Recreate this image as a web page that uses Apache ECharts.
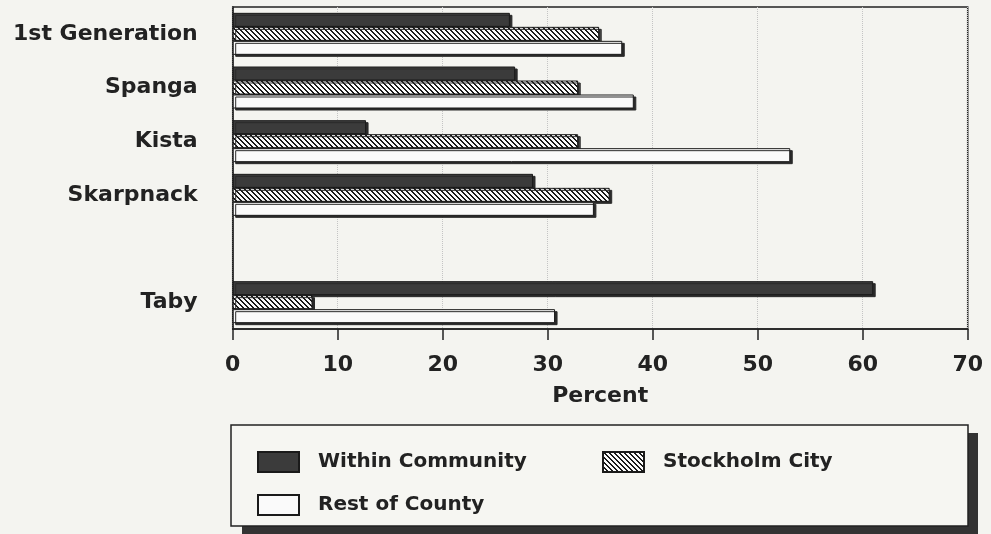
<!DOCTYPE html>
<html>
<head>
<meta charset="utf-8">
<title>Travel destinations by community</title>
<script src="https://cdn.jsdelivr.net/npm/echarts@6/dist/echarts.min.js"></script>
<style>
  html, body { margin: 0; padding: 0; background: #f4f4f0; }
  #chart { width: 991px; height: 534px; }
</style>
</head>
<body>
<div id="chart"></div>
<script>
// Communities (blank slot separates Taby from the Stockholm communities)
const categories = ['1st Generation', 'Spanga', 'Kista', 'Skarpnack', '', 'Taby'];
const seriesNames = ['Within Community', 'Stockholm City', 'Rest of County'];
// Percent of trips by destination
const withinCommunity = [26.4, 26.9, 12.7, 28.6, '-', 61.0];
const stockholmCity   = [34.9, 32.9, 32.9, 35.9, '-', 7.6];
const restOfCounty    = [37.1, 38.2, 53.1, 34.4, '-', 30.7];
const percentTicks = [0, 10, 20, 30, 40, 50, 60, 70];

const FONT = 'DejaVu Sans';
const INK = '#222';

// Crisp diagonal hatch (top-left to bottom-right) for the Stockholm City bars
function hatchPattern() {
  const s = 5;
  const c = document.createElement('canvas');
  c.width = s; c.height = s;
  const g = c.getContext('2d');
  g.fillStyle = '#fafafa';
  g.fillRect(0, 0, s, s);
  g.fillStyle = '#1a1a1a';
  for (let y = 0; y < s; y++) {
    g.fillRect(y % s, y, 1, 1);
    g.fillRect((y + 1) % s, y, 1, 1);
  }
  return c;
}

const barShadow = {
  shadowColor: '#2a2a2a',
  shadowOffsetX: 2.5,
  shadowOffsetY: 2,
  shadowBlur: 0
};

function barSeries(name, data, fill) {
  return {
    name: name,
    type: 'bar',
    data: data,
    barWidth: 14,
    barGap: '0%',
    itemStyle: Object.assign({
      color: fill,
      borderColor: '#1a1a1a',
      borderWidth: 1
    }, barShadow),
    emphasis: { disabled: true }
  };
}

const chart = echarts.init(document.getElementById('chart'), null, { renderer: 'canvas' });

const legendCommon = {
  orient: 'vertical',
  top: 446,
  itemWidth: 41,
  itemHeight: 20,
  itemGap: 21,
  icon: 'rect',
  selectedMode: false,
  itemStyle: { shadowColor: 'transparent', shadowOffsetX: 0, shadowOffsetY: 0 },
  textStyle: {
    fontFamily: FONT,
    fontWeight: 'bold',
    fontSize: 20,
    lineHeight: 20,
    color: INK,
    padding: [0, 0, 0, 14]
  },
  z: 10
};

chart.setOption({
  backgroundColor: '#f4f4f0',
  animation: false,
  grid: {
    left: 232.7,
    right: 23.3,
    top: 7,
    bottom: 205,
    show: true,
    borderColor: INK,
    borderWidth: 1.5,
    backgroundColor: 'transparent'
  },
  xAxis: {
    type: 'value',
    min: percentTicks[0],
    max: percentTicks[percentTicks.length - 1],
    interval: percentTicks[1] - percentTicks[0],
    name: 'Percent',
    nameLocation: 'middle',
    nameGap: 56,
    nameTextStyle: { fontFamily: FONT, fontWeight: 'bold', fontSize: 22, color: INK },
    axisLine: { show: true, lineStyle: { color: INK, width: 1.5 } },
    axisTick: { show: true, length: 11, lineStyle: { color: INK, width: 1.5 } },
    axisLabel: { margin: 25, fontFamily: FONT, fontWeight: 'bold', fontSize: 22, color: INK },
    splitLine: { show: true, lineStyle: { color: '#c4c4c4', type: 'dotted', width: 1 } }
  },
  yAxis: {
    type: 'category',
    data: categories,
    inverse: true,
    axisLine: { show: true, lineStyle: { color: INK, width: 1.5 } },
    axisTick: { show: false },
    axisLabel: { margin: 35, fontFamily: FONT, fontWeight: 'bold', fontSize: 22, color: INK },
    splitLine: { show: false }
  },
  legend: [
    Object.assign({ left: 252, data: [seriesNames[0], seriesNames[2]] }, legendCommon),
    Object.assign({ left: 597, data: [seriesNames[1]] }, legendCommon)
  ],
  graphic: [
    {
      type: 'rect', z: 1,
      shape: { x: 242, y: 433, width: 736, height: 110 },
      style: { fill: '#333333' }
    },
    {
      type: 'rect', z: 2,
      shape: { x: 231, y: 425, width: 737, height: 101 },
      style: { fill: '#f6f6f2', stroke: INK, lineWidth: 1.5 }
    }
  ],
  series: [
    barSeries(seriesNames[0], withinCommunity, '#3b3b3b'),
    barSeries(seriesNames[1], stockholmCity, { image: hatchPattern(), repeat: 'repeat' }),
    barSeries(seriesNames[2], restOfCounty, '#fafafa')
  ]
});
</script>
</body>
</html>
